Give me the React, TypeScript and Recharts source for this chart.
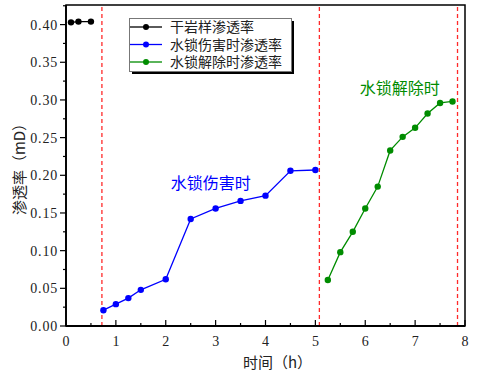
import React from 'react';
import { LineChart, Line, XAxis, YAxis, ReferenceLine, ReferenceArea, ReferenceDot, Label } from 'recharts';

// 干岩样渗透率
const dryX = [0.1, 0.25, 0.5];
const dryY = [0.403, 0.404, 0.404];
// 水锁伤害时渗透率
const damageX = [0.75, 1, 1.25, 1.5, 2, 2.5, 3, 3.5, 4, 4.5, 5];
const damageY = [0.021, 0.029, 0.037, 0.048, 0.062, 0.142, 0.156, 0.166, 0.173, 0.206, 0.207];
// 水锁解除时渗透率
const releaseX = [5.25, 5.5, 5.75, 6, 6.25, 6.5, 6.75, 7, 7.25, 7.5, 7.75];
const releaseY = [0.061, 0.098, 0.125, 0.156, 0.185, 0.233, 0.251, 0.263, 0.282, 0.296, 0.298];

const stageLines = [0.72, 5.08, 7.85];
const xTicks = [0, 0.5, 1, 1.5, 2, 2.5, 3, 3.5, 4, 4.5, 5, 5.5, 6, 6.5, 7, 7.5, 8];
const yTicks = [0, 0.025, 0.05, 0.075, 0.1, 0.125, 0.15, 0.175, 0.2, 0.225, 0.25, 0.275, 0.3, 0.325, 0.35, 0.375, 0.4, 0.425];
const yMajor = [0, 0.05, 0.1, 0.15, 0.2, 0.25, 0.3, 0.35, 0.4];

const X_MAX = 8;
const Y_MAX = 0.426;

const cjk = '"Noto Sans CJK SC", sans-serif';
const serif = '"Liberation Serif", "DejaVu Serif", serif';

const toRows = (xs: number[], ys: number[]) => xs.map((x, i) => ({ x, y: ys[i] }));

const series = [
  { name: '干岩样渗透率', color: '#000000', data: toRows(dryX, dryY) },
  { name: '水锁伤害时渗透率', color: '#0000ff', data: toRows(damageX, damageY) },
  { name: '水锁解除时渗透率', color: '#008c00', data: toRows(releaseX, releaseY) },
];

function XTick(props: any) {
  const { x, y, payload } = props;
  const major = Number.isInteger(payload.value);
  return (
    <g>
      <line x1={x} x2={x} y1={y} y2={y - (major ? 6 : 3)} stroke="#000" strokeWidth={1.2} />
      {major && (
        <text x={x} y={y + 20} textAnchor="middle" fontFamily={serif} fontSize={14} fill="#222">
          {payload.value}
        </text>
      )}
    </g>
  );
}

function YTick(props: any) {
  const { x, y, payload } = props;
  const major = yMajor.some((v) => Math.abs(v - payload.value) < 1e-9);
  return (
    <g>
      <line x1={x} x2={x - (major ? 6 : 3)} y1={y} y2={y} stroke="#000" strokeWidth={1.2} />
      {major && (
        <text x={x - 8} y={y + 5} textAnchor="end" fontFamily={serif} fontSize={14} fill="#222" letterSpacing={0.8}>
          {payload.value.toFixed(2)}
        </text>
      )}
    </g>
  );
}

// legend box drawn on top of the chart, upper left
function LegendBox() {
  return (
    <svg width={170} height={60} style={{ position: 'absolute', left: 128, top: 17 }}>
      <rect x={4} y={4} width={162} height={53} fill="#000" />
      <rect x={1.5} y={1.5} width={162} height={53} fill="#fff" stroke="#777" strokeWidth={1} />
      {series.map((s, i) => {
        const cy = 10 + i * 17.5;
        return (
          <g key={s.name}>
            <line x1={2} x2={34} y1={cy} y2={cy} stroke={s.color} strokeWidth={1.3} />
            <circle cx={18} cy={cy} r={3} fill={s.color} />
            <text x={42} y={cy + 5} fontFamily={cjk} fontSize={14} fill="#222">
              {s.name}
            </text>
          </g>
        );
      })}
    </svg>
  );
}

export default function App() {
  return (
    <div style={{ position: 'absolute', left: 0, top: 0, width: 479, height: 372, background: '#fff' }}>
      <LineChart width={479} height={372} margin={{ top: 5, right: 14, bottom: 0, left: 0 }}>
        <XAxis
          type="number"
          dataKey="x"
          domain={[0, X_MAX]}
          ticks={xTicks}
          interval={0}
          tickSize={0}
          tickMargin={0}
          tickLine={false}
          tick={<XTick />}
          axisLine={{ stroke: '#000', strokeWidth: 1.8 }}
          height={46}
        >
          <Label value="时间（h）" position="insideBottom" offset={4} style={{ fontFamily: cjk, fontSize: 15, fill: '#222' }} dx={12} />
        </XAxis>
        <YAxis
          type="number"
          dataKey="y"
          domain={[0, Y_MAX]}
          ticks={yTicks}
          interval={0}
          tickSize={0}
          tickMargin={0}
          tickLine={false}
          tick={<YTick />}
          axisLine={{ stroke: '#000', strokeWidth: 1.8 }}
          width={66}
        >
          <Label value="渗透率（mD）" angle={-90} position="insideLeft" offset={20} style={{ fontFamily: cjk, fontSize: 15, fill: '#222', textAnchor: 'middle' }} />
        </YAxis>
        <ReferenceArea x1={0} x2={X_MAX} y1={0} y2={Y_MAX} fill="none" stroke="#000" strokeWidth={1.5} />
        {stageLines.map((v) => (
          <ReferenceLine key={v} x={v} stroke="#ff2a2a" strokeWidth={1.3} strokeDasharray="4 3" />
        ))}
        {series.map((s) => (
          <Line
            key={s.name}
            data={s.data}
            dataKey="y"
            name={s.name}
            type="linear"
            stroke={s.color}
            strokeWidth={1.3}
            dot={{ r: 3.2, fill: s.color, stroke: s.color, strokeWidth: 0 }}
            activeDot={false}
            isAnimationActive={false}
          />
        ))}
        <ReferenceDot x={2.9} y={0.189} r={0} fill="none" stroke="none">
          <Label value="水锁伤害时" position="center" style={{ fontFamily: cjk, fontSize: 16, fill: '#0000ff' }} />
        </ReferenceDot>
        <ReferenceDot x={6.69} y={0.315} r={0} fill="none" stroke="none">
          <Label value="水锁解除时" position="center" style={{ fontFamily: cjk, fontSize: 16, fill: '#008c00' }} />
        </ReferenceDot>
      </LineChart>
      <LegendBox />
    </div>
  );
}
